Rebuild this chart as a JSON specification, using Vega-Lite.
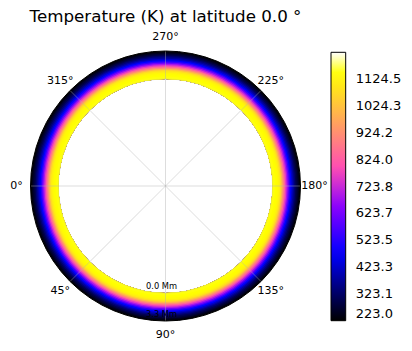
{
  "$schema": "https://vega.github.io/schema/vega-lite/v6.json",
  "width": 331,
  "height": 300,
  "autosize": "none",
  "padding": {"top": 36, "left": 0, "right": 81, "bottom": 15},
  "background": "white",
  "title": {"text": "Temperature (K) at latitude 0.0 °", "anchor": "middle", "frame": "group", "fontSize": 16.7, "fontWeight": "normal", "font": "DejaVu Sans", "color": "black", "baseline": "alphabetic", "offset": 11.5, "dy": 19},
  "config": {"view": {"stroke": null}, "font": "DejaVu Sans"},
  "layer": [
    {
      "data": {"values": [
        {"alt": 3.3, "T": 230}, {"alt": 3.15, "T": 250}, {"alt": 3.0, "T": 275}, {"alt": 2.85, "T": 300},
        {"alt": 2.7, "T": 335}, {"alt": 2.55, "T": 375}, {"alt": 2.4, "T": 420}, {"alt": 2.25, "T": 470},
        {"alt": 2.1, "T": 530}, {"alt": 1.95, "T": 610}, {"alt": 1.8, "T": 690}, {"alt": 1.65, "T": 760},
        {"alt": 1.5, "T": 840}, {"alt": 1.35, "T": 920}, {"alt": 1.2, "T": 1000}, {"alt": 1.05, "T": 1070},
        {"alt": 0.9, "T": 1110}, {"alt": 0.75, "T": 1130}, {"alt": 0.6, "T": 1140}, {"alt": 0.45, "T": 1145},
        {"alt": 0.3, "T": 1148}, {"alt": 0.15, "T": 1150}
      ]},
      "mark": {"type": "arc", "theta": 0, "theta2": 6.2832},
      "encoding": {
        "radius": {"field": "alt", "type": "quantitative", "stack": null, "scale": {"type": "linear", "domain": [0, 3.3], "range": [107, 135], "zero": false}},
        "color": {"field": "T", "type": "quantitative",
          "scale": {"type": "linear", "domain": [223, 473.4, 643.7, 794.0, 1144.6, 1224.7], "range": ["#000000", "#0000ff", "#8700ff", "#ff4db3", "#ffff00", "#ffffff"], "interpolate": "rgb"},
          "legend": {"orient": "none", "legendX": 331, "legendY": 16.3, "title": null, "direction": "vertical", "gradientLength": 268.4, "gradientThickness": 14.7, "gradientStrokeColor": "black", "gradientStrokeWidth": 1, "values": [223.0, 323.1, 423.3, 523.5, 623.7, 723.8, 824.0, 924.2, 1024.3, 1124.5], "format": ".1f", "labelFontSize": 13, "labelOffset": 10, "labelBaseline": "middle", "labelColor": "black", "padding": 0, "labelOverlap": false, "labelFont": "DejaVu Sans"}
        }
      }
    },
    {
      "data": {"values": [{"alt": 0}]},
      "mark": {"type": "arc", "theta": 0, "theta2": 6.2832, "filled": false, "stroke": "#b0b0b0", "strokeOpacity": 0.35, "strokeWidth": 0.8},
      "encoding": {
        "radius": {"field": "alt", "type": "quantitative", "stack": null, "scale": {"type": "linear", "domain": [0, 3.3], "range": [107, 135], "zero": false}},
        "radius2": {"value": 0}
      }
    },
    {
      "data": {"values": [{"lon": 0}, {"lon": 45}, {"lon": 90}, {"lon": 135}, {"lon": 180}, {"lon": 225}, {"lon": 270}, {"lon": 315}]},
      "mark": {"type": "arc", "filled": false, "stroke": "#b0b0b0", "strokeOpacity": 0.3, "strokeWidth": 0.8},
      "encoding": {
        "theta": {"field": "lon", "type": "quantitative", "stack": null, "scale": {"domain": [0, 360], "range": [4.712389, -1.570796]}},
        "theta2": {"field": "lon"},
        "radius": {"datum": 3.3, "type": "quantitative", "scale": {"type": "linear", "domain": [0, 3.3], "range": [107, 135], "zero": false}},
        "radius2": {"value": 0}
      }
    },
    {
      "data": {"values": [{"alt": 3.3}]},
      "mark": {"type": "arc", "theta": 0, "theta2": 6.2832, "filled": false, "stroke": "black", "strokeWidth": 1},
      "encoding": {
        "radius": {"field": "alt", "type": "quantitative", "stack": null, "scale": {"type": "linear", "domain": [0, 3.3], "range": [107, 135], "zero": false}},
        "radius2": {"value": 0}
      }
    },
    {
      "data": {"values": [
        {"lon": 0, "label": "0°"}, {"lon": 45, "label": "45°"}, {"lon": 90, "label": "90°"}, {"lon": 135, "label": "135°"},
        {"lon": 180, "label": "180°"}, {"lon": 225, "label": "225°"}, {"lon": 270, "label": "270°"}, {"lon": 315, "label": "315°"}
      ]},
      "mark": {"type": "text", "fontSize": 11, "color": "black", "align": "center", "baseline": "middle"},
      "encoding": {
        "theta": {"field": "lon", "type": "quantitative", "stack": null, "scale": {"domain": [0, 360], "range": [4.712389, -1.570796]}},
        "radius": {"value": 149},
        "text": {"field": "label"}
      }
    },
    {
      "data": {"values": [{"alt": 0, "label": "0.0 Mm"}, {"alt": 3.3, "label": "3.3 Mm"}]},
      "mark": {"type": "text", "fontSize": 8.3, "color": "black", "align": "center", "baseline": "bottom", "dx": -4, "dy": -2},
      "encoding": {
        "theta": {"datum": 90, "type": "quantitative", "scale": {"domain": [0, 360], "range": [4.712389, -1.570796]}},
        "radius": {"field": "alt", "type": "quantitative", "stack": null, "scale": {"type": "linear", "domain": [0, 3.3], "range": [107, 135], "zero": false}},
        "text": {"field": "label"}
      }
    }
  ]
}
